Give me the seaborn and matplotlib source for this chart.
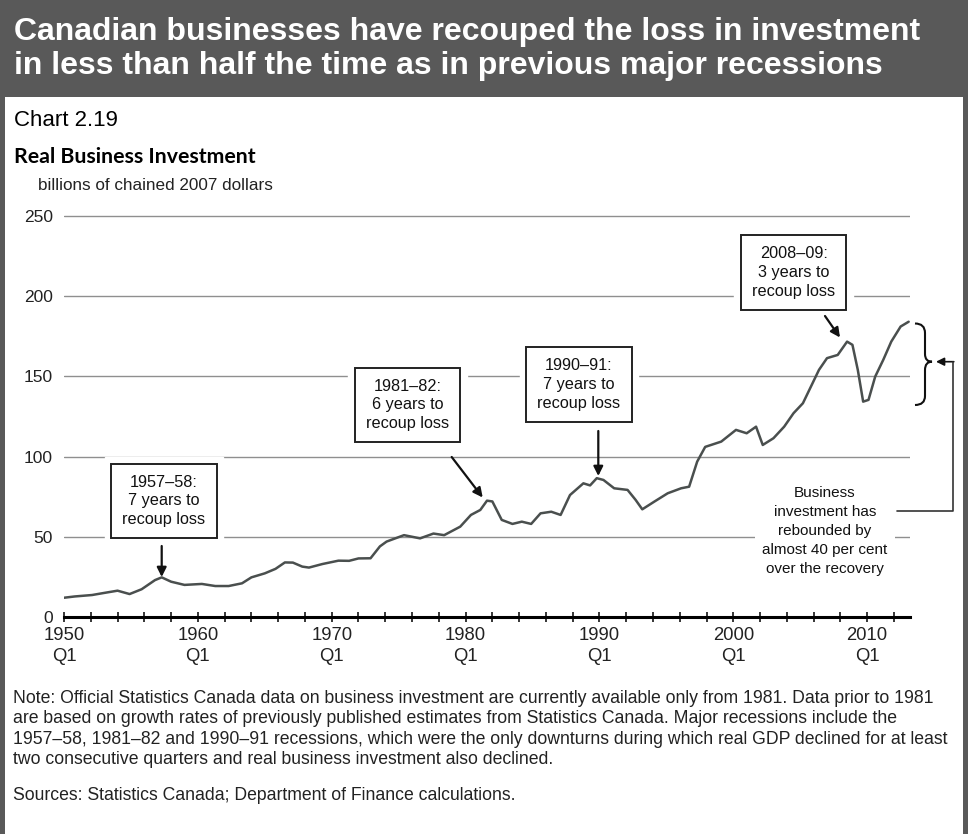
import matplotlib
matplotlib.use("Agg")
import matplotlib.pyplot as plt
import numpy as np
import seaborn as sns
from matplotlib.lines import Line2D
from matplotlib.patches import PathPatch, Rectangle
from matplotlib.path import Path

# data (year as decimal, billions of chained 2007 dollars)
years = [1950.0, 1950.8, 1952.1, 1953.0, 1954.0, 1954.9, 1955.8, 1956.8, 1957.3,
         1958.0, 1959.0, 1960.3, 1961.3, 1962.3, 1963.3, 1964.0, 1965.0, 1965.8,
         1966.5, 1967.1, 1967.8, 1968.3, 1969.3, 1970.5, 1971.3, 1972.0, 1972.9,
         1973.6, 1974.1, 1975.4, 1976.6, 1977.6, 1978.4, 1979.6, 1980.4, 1981.1,
         1981.6, 1982.0, 1982.7, 1983.5, 1984.2, 1984.9, 1985.6, 1986.4, 1987.1,
         1987.8, 1988.8, 1989.3, 1989.8, 1990.3, 1991.1, 1992.1, 1992.7, 1993.2,
         1994.1, 1995.1, 1996.1, 1996.7, 1997.3, 1997.9, 1999.1, 2000.2, 2001.0,
         2001.7, 2002.2, 2003.0, 2003.8, 2004.5, 2005.2, 2005.8, 2006.4, 2007.0,
         2007.8, 2008.5, 2008.9, 2009.3, 2009.7, 2010.1, 2010.6, 2011.2, 2011.8,
         2012.5, 2013.1]
investment = [12.0, 12.8, 13.7, 15.0, 16.4, 14.3, 17.3, 23.0, 24.7,
              22.0, 20.0, 20.6, 19.3, 19.3, 21.0, 24.7, 27.2, 30.0,
              34.0, 33.9, 31.4, 30.8, 33.0, 35.1, 35.0, 36.5, 36.6,
              44.0, 47.0, 51.0, 49.0, 52.0, 51.0, 56.3, 63.6, 66.7,
              72.5, 72.0, 60.5, 58.0, 59.4, 58.0, 64.6, 65.6, 63.6,
              76.0, 83.3, 82.0, 86.5, 85.4, 80.2, 79.2, 73.0, 67.1,
              71.9, 77.1, 80.2, 81.2, 96.8, 106.0, 109.3, 116.6, 114.5,
              118.6, 107.2, 111.4, 118.6, 127.0, 133.2, 143.6, 154.0, 161.3,
              163.3, 171.6, 169.6, 154.0, 134.2, 135.3, 149.8, 160.2, 171.6,
              181.0, 184.0]

y_ticks = [0, 50, 100, 150, 200, 250]
x_major = [1950, 1960, 1970, 1980, 1990, 2000, 2010]
x_minor = list(range(1950, 2013, 2))
x_labels = [f"{y}\nQ1" for y in x_major]

recession_notes = ["1957\u201358:\n7 years to\nrecoup loss",
                   "1981\u201382:\n6 years to\nrecoup loss",
                   "1990\u201391:\n7 years to\nrecoup loss",
                   "2008\u201309:\n3 years to\nrecoup loss"]

title = ("Canadian businesses have recouped the loss in investment\n"
         "in less than half the time as in previous major recessions")
note = ("Note: Official Statistics Canada data on business investment are currently available only from 1981. Data prior to 1981\n"
        "are based on growth rates of previously published estimates from Statistics Canada. Major recessions include the\n"
        "1957\u201358, 1981\u201382 and 1990\u201391 recessions, which were the only downturns during which real GDP declined for at least\n"
        "two consecutive quarters and real business investment also declined.")
sources = "Sources: Statistics Canada; Department of Finance calculations."

W, H = 968, 834
sns.set_theme(style="white")
plt.rcParams["font.family"] = ["Liberation Sans", "DejaVu Sans"]


def fp(x, y):
    """pixel position measured from the top-left -> figure fraction"""
    return x / W, 1 - y / H


fig = plt.figure(figsize=(W / 100, H / 100), dpi=100)
fig.patch.set_facecolor("white")

# frame: header band and side borders
fig.patches.append(Rectangle((0, 1 - 97 / H), 1, 97 / H, transform=fig.transFigure,
                             facecolor="#595959", edgecolor="none", zorder=0))
fig.patches.append(Rectangle((0, 0), 5 / W, 1, transform=fig.transFigure,
                             facecolor="#595959", edgecolor="none", zorder=0))
fig.patches.append(Rectangle((1 - 5 / W, 0), 5 / W, 1, transform=fig.transFigure,
                             facecolor="#595959", edgecolor="none", zorder=0))

fig.text(*fp(14, 49), title, color="white", fontsize=23.0, fontweight="bold",
         va="center", ha="left", linespacing=1.2)
fig.text(*fp(14, 121), "Chart 2.19", fontsize=16, color="black", va="center")
fig.text(*fp(14, 157), "Real Business Investment", fontsize=15.3, fontweight="bold",
         family=["Lato", "DejaVu Sans"], color="black", va="center")
fig.text(*fp(38, 185), "billions of chained 2007 dollars", fontsize=12.3,
         color="#222222", va="center")

ax = fig.add_axes([64 / W, 1 - 617 / H, (910 - 64) / W, (617 - 215) / H])
ax.set_facecolor("white")

sns.lineplot(x=years, y=investment, ax=ax, color="#4a4f4e", linewidth=1.8,
             estimator=None, sort=False, zorder=3)

ax.set_xlim(1950, 2013.2)
ax.set_ylim(0, 250.5)
ax.set_yticks(y_ticks)
ax.set_yticklabels([str(v) for v in y_ticks])
ax.set_xticks(x_major)
ax.set_xticklabels(x_labels)
ax.set_xticks(x_minor, minor=True)
ax.set_axisbelow(True)
ax.yaxis.grid(True, color="#8f8f8f", linewidth=1.0)
ax.xaxis.grid(False)
for side in ("top", "left", "right"):
    ax.spines[side].set_visible(False)
ax.spines["bottom"].set_color("black")
ax.spines["bottom"].set_linewidth(2.2)
ax.spines["bottom"].set_zorder(4)
ax.tick_params(axis="y", length=0, pad=8, labelsize=12.5, labelcolor="#222222")
ax.tick_params(axis="x", which="both", direction="inout", length=7, width=1.1,
               color="black", bottom=True)
ax.tick_params(axis="x", which="major", pad=4, labelsize=13.3, labelcolor="#222222")
for lab in ax.get_xticklabels():
    lab.set_linespacing(1.3)
ax.set_xlabel("")
ax.set_ylabel("")

# recession call-outs: (box centre, arrow start, arrow tip), pixels from top-left
callouts = [((164, 501), (161.7, 546), (161.7, 577)),
            ((407.5, 405), (451.7, 457), (482.7, 497.5)),
            ((579, 384.5), (598.3, 431), (598.3, 476)),
            ((793.8, 272.5), (825, 316), (840, 337.5))]
for text, (c, a0, a1) in zip(recession_notes, callouts):
    cx, cy = c
    # white margin that breaks the gridlines around each box
    ax.annotate(text, xy=(cx, H - cy), xycoords="figure pixels", ha="center",
                va="center", fontsize=11.7, linespacing=1.3, color="white",
                bbox=dict(boxstyle="square,pad=1.1", fc="white", ec="white"),
                zorder=5, annotation_clip=False)
    ax.annotate(text, xy=(cx, H - cy), xycoords="figure pixels", ha="center",
                va="center", fontsize=11.7, linespacing=1.3, color="#111111",
                bbox=dict(boxstyle="square,pad=0.68", fc="white", ec="#222222", lw=1.4),
                zorder=6, annotation_clip=False)
    ax.annotate("", xy=(a1[0], H - a1[1]), xytext=(a0[0], H - a0[1]),
                xycoords="figure pixels", textcoords="figure pixels",
                arrowprops=dict(arrowstyle="-|>", color="#111111", lw=1.6,
                                mutation_scale=14, shrinkA=0, shrinkB=0),
                zorder=6, annotation_clip=False)

ax.annotate("Business\ninvestment has\nrebounded by\nalmost 40 per cent\nover the recovery",
            xy=(825, H - 531), xycoords="figure pixels", ha="center", va="center",
            fontsize=11, linespacing=1.45, color="#111111",
            bbox=dict(boxstyle="square,pad=0.5", fc="white", ec="none"),
            zorder=5, annotation_clip=False)

# connector from the text to the brace
fig.lines.append(Line2D([897 / W, 953.3 / W, 953.3 / W], [1 - 510.7 / H, 1 - 510.7 / H, 1 - 361.7 / H],
                        transform=fig.transFigure, color="#333333", lw=1.2))
ax.annotate("", xy=(936, H - 361.7), xytext=(953.8, H - 361.7),
            xycoords="figure pixels", textcoords="figure pixels",
            arrowprops=dict(arrowstyle="-|>", color="#111111", lw=1.2,
                            mutation_scale=12, shrinkA=0, shrinkB=0),
            annotation_clip=False)

# brace spanning the recovery, in inches from the bottom-left
def inch(x, y):
    return (x / 100, (H - y) / 100)

verts = [inch(915, 323.5), inch(925, 323.5), inch(925, 333),
         inch(925, 345), inch(925, 354),
         inch(925, 361.7), inch(932, 361.7),
         inch(925, 361.7), inch(925, 370),
         inch(925, 386), inch(925, 396),
         inch(925, 405), inch(915, 405)]
codes = [Path.MOVETO, Path.CURVE3, Path.CURVE3,
         Path.LINETO, Path.LINETO,
         Path.CURVE3, Path.CURVE3,
         Path.CURVE3, Path.CURVE3,
         Path.LINETO, Path.LINETO,
         Path.CURVE3, Path.CURVE3]
fig.patches.append(PathPatch(Path(verts, codes), transform=fig.dpi_scale_trans,
                             fill=False, ec="#111111", lw=1.5))

fig.text(*fp(13, 729), note, fontsize=12.7, color="#222222", va="center",
         ha="left", linespacing=1.26)
fig.text(*fp(13, 796), sources, fontsize=12.7, color="#222222", va="center")

fig.savefig("out.png", dpi=100)
